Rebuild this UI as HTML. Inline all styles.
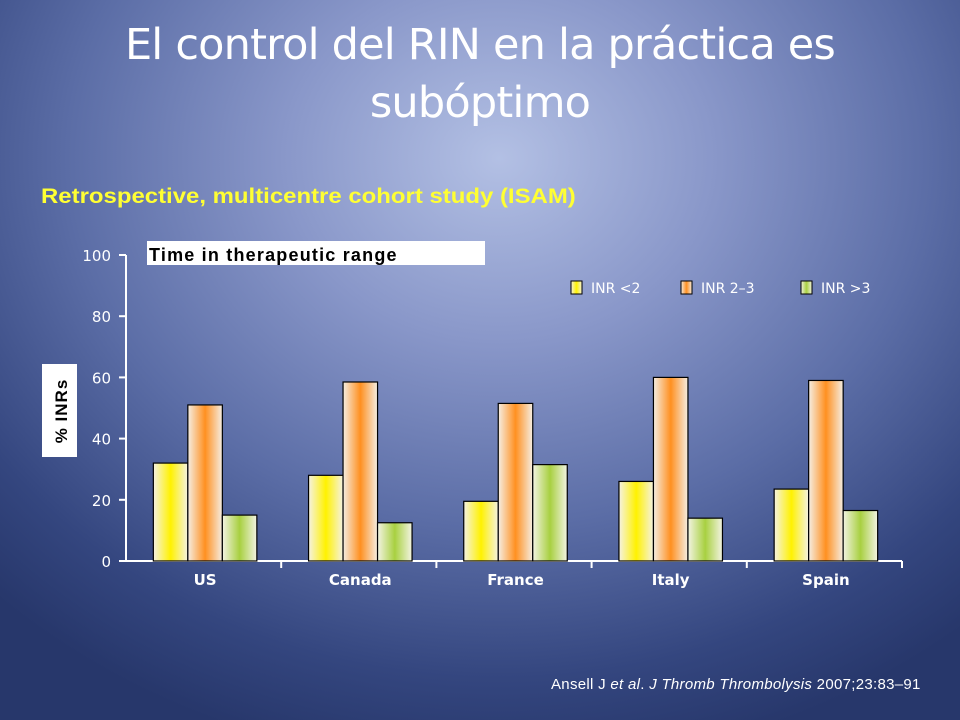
<!DOCTYPE html>
<html><head><meta charset="utf-8"><style>
html,body{margin:0;padding:0}
body{width:960px;height:720px;overflow:hidden;position:relative;font-family:"Liberation Sans",sans-serif;
background:radial-gradient(ellipse 75% 85% at 52% 22%,#b3c0e4 0%,#8997c9 30%,#5b6da6 60%,#34467f 85%,#27376b 100%);}
.t{position:absolute;color:#fff}
</style></head><body>
<div class="t" style="left:0;width:960px;top:16px;text-align:center;font-size:43px;line-height:58px;font-family:'DejaVu Sans','Liberation Sans',sans-serif;font-weight:normal;letter-spacing:-0.8px">El control del RIN en la práctica es<br>subóptimo</div>
<div class="t" style="left:41px;top:185px;font-size:21px;font-weight:bold;color:#ffff33;transform:scaleX(1.14);transform-origin:0 0;white-space:nowrap">Retrospective, multicentre cohort study (ISAM)</div>
<svg id="chart" width="960" height="720" style="position:absolute;left:0;top:0">
<defs>
<linearGradient id="gy" x1="0" x2="1"><stop offset="0" stop-color="#f5f2e3"/><stop offset="0.5" stop-color="#fff200"/><stop offset="1" stop-color="#f5f2e3"/></linearGradient>
<linearGradient id="go" x1="0" x2="1"><stop offset="0" stop-color="#f5eee3"/><stop offset="0.5" stop-color="#ff9020"/><stop offset="1" stop-color="#f5eee3"/></linearGradient>
<linearGradient id="gg" x1="0" x2="1"><stop offset="0" stop-color="#f3f3e3"/><stop offset="0.5" stop-color="#a8d040"/><stop offset="1" stop-color="#f3f3e3"/></linearGradient>
</defs>
<rect x="147" y="241" width="338" height="24" fill="#fff"/>
<text x="149" y="261" font-size="18" letter-spacing="1.2" font-weight="bold" fill="#000" font-family="Liberation Sans">Time in therapeutic range</text>
<rect x="42" y="364" width="35" height="93" fill="#fff"/>
<text transform="translate(67,411) rotate(-90)" text-anchor="middle" font-size="17" letter-spacing="1" font-weight="bold" fill="#000" font-family="Liberation Sans">% INRs</text>
<g id="plot"></g>
</svg>
<div class="t" style="left:551px;top:676px;font-size:15px;letter-spacing:0.3px;white-space:nowrap">Ansell J <i>et al</i>. <i>J Thromb Thrombolysis</i> 2007;23:83–91</div>
<script>
const categories=["US","Canada","France","Italy","Spain"];
const inrLow=[32,28,19.5,26,23.5];
const inrRange=[51,58.5,51.5,60,59];
const inrHigh=[15,12.5,31.5,14,16.5];
const yTicks=[0,20,40,60,80,100];
const seriesNames=["INR <2","INR 2–3","INR >3"];
const NS="http://www.w3.org/2000/svg";
const g=document.getElementById('plot');
const x0=126,x1=902,yB=561,yT=255;
const y=v=>yB-(v/100)*(yB-yT);
const cw=(x1-x0)/categories.length;
function mk(t,a){const e=document.createElementNS(NS,t);for(const k in a)e.setAttribute(k,a[k]);g.appendChild(e);return e;}
let e=mk('line',{x1:x0,y1:yT,x2:x0,y2:yB,stroke:'#fff','stroke-width':2});


e=mk('line',{x1:x0-7,y1:yB,x2:x1,y2:yB,stroke:'#fff','stroke-width':2});


yTicks.forEach(v=>{
 let t=mk('line',{x1:x0-7,y1:y(v),x2:x0,y2:y(v),stroke:'#fff','stroke-width':2});
 
 
 let l=mk('text',{x:x0-15,y:y(v)+6,'text-anchor':'end','font-size':15,fill:'#fff','font-family':'DejaVu Sans'});
 l.textContent=v;
 
 
});
const series=[inrLow,inrRange,inrHigh],fills=['url(#gy)','url(#go)','url(#gg)'];
const bw=34.5;
categories.forEach((c,i)=>{
 const cx=x0+cw*(i+0.5)+1.5;
 let tk=mk('line',{x1:x0+cw*(i+1),y1:yB,x2:x0+cw*(i+1),y2:yB+7,stroke:'#fff','stroke-width':2});
 
 
 let l=mk('text',{x:cx,y:yB+24,'text-anchor':'middle','font-size':15,'font-weight':'bold',fill:'#fff','font-family':'DejaVu Sans'});
 l.textContent=c;
 
 
 series.forEach((s,j)=>{
  const r=mk('rect',{x:cx-bw*1.5+j*bw,y:y(s[i]),width:bw,height:yB-y(s[i]),fill:fills[j],stroke:'#000','stroke-width':1.2});
  
  
 });
});
const lx=[571,681,801];
seriesNames.forEach((n,j)=>{
 const r=mk('rect',{x:lx[j],y:281,width:11,height:13,fill:fills[j],stroke:'#000','stroke-width':1});
 
 
 const t=mk('text',{x:lx[j]+20,y:293,'font-size':14,fill:'#fff','font-family':'DejaVu Sans'});
 t.textContent=n;
 
 
});
</script>
</body></html>
